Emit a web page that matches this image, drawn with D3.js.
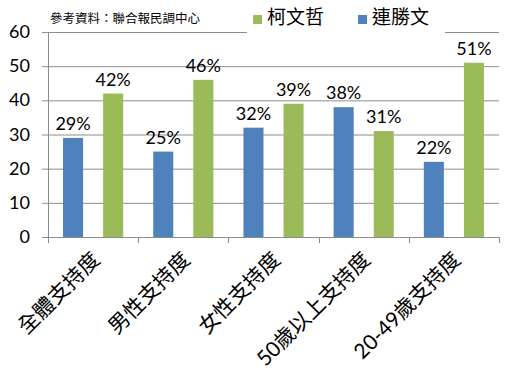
<!DOCTYPE html>
<html><head><meta charset="utf-8">
<script src="https://cdn.jsdelivr.net/npm/d3@7"></script>
<style>body{margin:0;background:#fff}svg{display:block}</style>
</head><body><svg></svg>
<script>
var categories = ["全體支持度", "男性支持度", "女性支持度", "50歲以上支持度", "20-49歲支持度"];
var lien = [29, 25, 32, 38, 22];   // 連勝文
var ko = [42, 46, 39, 31, 51];     // 柯文哲
var yTicks = [0, 10, 20, 30, 40, 50, 60];
var seriesNames = ["連勝文", "柯文哲"];
var legendOrder = ["柯文哲", "連勝文"];
var source = "參考資料：聯合報民調中心";

var width = 514, height = 378;
var font = "Lato, 'Noto Sans CJK TC', sans-serif";
var colors = {"連勝文": "#4f81bd", "柯文哲": "#9bbb59"};

var svg = d3.select("svg").attr("width", width).attr("height", height);

var x = d3.scaleBand().domain(categories).range([48, 499]);
var inner = d3.scaleBand().domain(seriesNames).range([0, x.bandwidth()]).paddingInner(0.5).paddingOuter(0.375);
var y = d3.scaleLinear().domain([0, 60]).range([237, 32]);

// gridlines
svg.append("g").selectAll("line").data(yTicks).enter().append("line")
	.attr("x1", 42).attr("x2", 499)
	.attr("y1", function(d) { return y(d) + 0.5; }).attr("y2", function(d) { return y(d) + 0.5; })
	.attr("stroke", "#8c8c8c").attr("stroke-width", 1);

// y labels
svg.append("g").selectAll("text").data(yTicks).enter().append("text")
	.attr("x", 30).attr("y", function(d) { return y(d) + 6; })
	.attr("text-anchor", "end").attr("font-family", font).attr("font-size", 18).attr("fill", "#000")
	.text(function(d) { return d; });

// axis lines
svg.append("line").attr("x1", 48.5).attr("x2", 48.5).attr("y1", y(60)).attr("y2", y(0) + 6)
	.attr("stroke", "#8c8c8c");
svg.append("g").selectAll("line").data(d3.range(categories.length + 1)).enter().append("line")
	.attr("x1", function(i) { return Math.round(48 + i * x.step()) + 0.5; })
	.attr("x2", function(i) { return Math.round(48 + i * x.step()) + 0.5; })
	.attr("y1", y(0)).attr("y2", y(0) + 6).attr("stroke", "#8c8c8c");

// bars
var rows = categories.map(function(c, i) { return {cat: c, vals: [{s: "連勝文", v: lien[i]}, {s: "柯文哲", v: ko[i]}]}; });
var g = svg.append("g").selectAll("g").data(rows).enter().append("g")
	.attr("transform", function(d) { return "translate(" + x(d.cat) + ",0)"; });
g.selectAll("rect").data(function(d) { return d.vals; }).enter().append("rect")
	.attr("x", function(d) { return inner(d.s); }).attr("width", inner.bandwidth())
	.attr("y", function(d) { return y(d.v); }).attr("height", function(d) { return y(0) - y(d.v); })
	.attr("fill", function(d) { return colors[d.s]; });
g.selectAll("text").data(function(d) { return d.vals; }).enter().append("text")
	.attr("x", function(d) { return inner(d.s) + inner.bandwidth() / 2; })
	.attr("y", function(d) { return y(d.v) - 8; })
	.attr("text-anchor", "middle").attr("font-family", font).attr("font-size", 18)
	.text(function(d) { return d.v + "%"; });

// category labels
svg.append("g").selectAll("text").data(categories).enter().append("text")
	.attr("transform", function(d) { return "translate(" + (x(d) + x.bandwidth() / 2 + 8) + "," + 261 + ") rotate(-45)"; })
	.attr("text-anchor", "end").attr("font-family", font).attr("font-size", 21)
	.text(function(d) { return d; });

// legend
svg.append("rect").attr("x", 247).attr("y", 4).attr("width", 198).attr("height", 34).attr("fill", "#fff");
var lg = svg.append("g").selectAll("g").data(legendOrder).enter().append("g")
	.attr("transform", function(d, i) { return "translate(" + (253 + i * 105) + ",0)"; });
lg.append("rect").attr("y", 15).attr("width", 9).attr("height", 9)
	.attr("fill", function(d) { return colors[d]; });
lg.append("text").attr("x", 14).attr("y", 24).attr("font-family", font).attr("font-size", 19)
	.text(function(d) { return d; });

svg.append("text").attr("x", 50).attr("y", 23).attr("font-family", font).attr("font-size", 12.5)
	.text(source);
</script></body></html>
